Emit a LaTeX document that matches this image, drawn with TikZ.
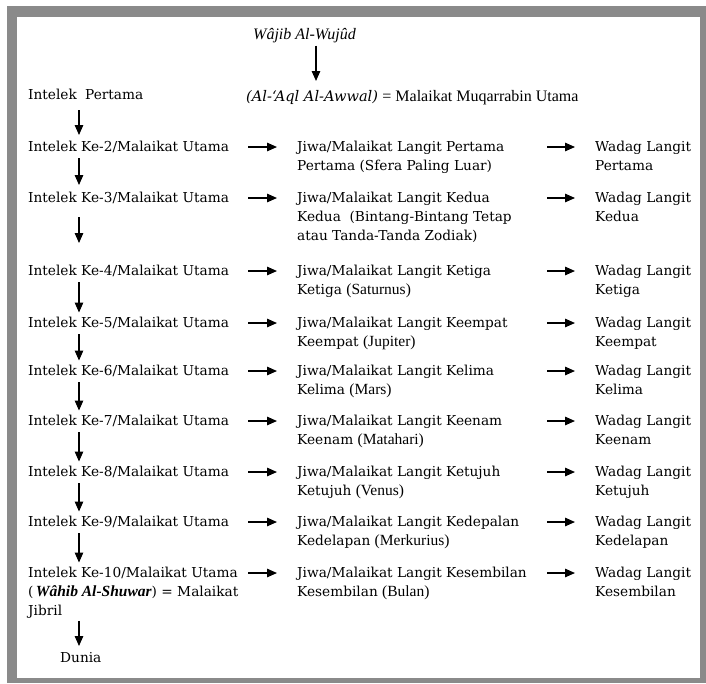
\documentclass[tikz,border=0pt]{standalone}
\usepackage{fontspec}
\setmainfont{DejaVu Serif}
\newfontfamily\tf{Liberation Serif}
\usetikzlibrary{arrows.meta}
\newcommand\tms[1]{{\tf\fontsize{15.5pt}{19pt}\selectfont #1}}
\definecolor{framegray}{RGB}{138,138,138}
\tikzset{
  txt/.style={anchor=north west, inner sep=0pt, align=left,
    font=\fontsize{13.7pt}{19pt}\selectfont,
    execute at begin node={\rule[-3.5pt]{0pt}{14.5pt}}},
  arr/.style={-{Triangle[length=10pt,width=8.5pt]}, line width=1.3pt},
  harr/.style={arr, shorten >=20pt},
}
\begin{document}
\begin{tikzpicture}[x=1pt,y=-1pt]
\useasboundingbox (0,0) rectangle (706,683);
\fill[framegray] (7,6) rectangle (706,683);
\fill[white] (17,17) rectangle (700,678);

\coordinate (ax) at (79,0);
\coordinate (tx) at (316,0);
\coordinate (hxa) at (248,0);
\coordinate (hxb) at (547,0);

% top
\node[txt] (w) at (253,28.5) {\tms{\fontsize{16pt}{19pt}\selectfont\itshape Wâjib Al-Wujûd}};
\node[txt] (aql) at (246,90.5) {{\fontsize{14.6pt}{19pt}\selectfont\itshape (Al-‘Aql Al-Awwal)} {\tf\fontsize{16pt}{19pt}\selectfont = Malaikat Muqarrabin Utama}};

% left column
\node[txt] (i1) at (28,88.5) {Intelek\hspace{4pt} Pertama};
\node[txt] (i2) at (28,140.5) {Intelek Ke-2/Malaikat Utama};
\node[txt] (i3) at (28,191.5) {Intelek Ke-3/Malaikat Utama};
\node[txt] (i4) at (28,264.5) {Intelek Ke-4/Malaikat Utama};
\node[txt] (i5) at (28,316.5) {Intelek Ke-5/Malaikat Utama};
\node[txt] (i6) at (28,364.5) {Intelek Ke-6/Malaikat Utama};
\node[txt] (i7) at (28,414.5) {Intelek Ke-7/Malaikat Utama};
\node[txt] (i8) at (28,465.5) {Intelek Ke-8/Malaikat Utama};
\node[txt] (i9) at (28,515.5) {Intelek Ke-9/Malaikat Utama};
\node[txt] (i10) at (28,566.5) {Intelek Ke-10/Malaikat Utama\\(\,\tms{\bfseries\itshape Wâhib Al-Shuwar}) = Malaikat\\Jibril};
\node[txt] (dunia) at (60,651.5) {Dunia};

% middle column
\node[txt] (j2) at (297,140.5) {Jiwa/Malaikat Langit Pertama\\Pertama (Sfera Paling Luar)};
\node[txt] (j3) at (297,191.5) {Jiwa/Malaikat Langit Kedua\\Kedua\ \ (Bintang-Bintang Tetap\\atau Tanda-Tanda Zodiak)};
\node[txt] (j4) at (297,264.5) {Jiwa/Malaikat Langit Ketiga\\Ketiga \tms{(Saturnus)}};
\node[txt] (j5) at (297,316.5) {Jiwa/Malaikat Langit Keempat\\Keempat \tms{(Jupiter)}};
\node[txt] (j6) at (297,364.5) {Jiwa/Malaikat Langit Kelima\\Kelima \tms{(Mars)}};
\node[txt] (j7) at (297,414.5) {Jiwa/Malaikat Langit Keenam\\Keenam \tms{(Matahari)}};
\node[txt] (j8) at (297,465.5) {Jiwa/Malaikat Langit Ketujuh\\Ketujuh \tms{(Venus)}};
\node[txt] (j9) at (297,515.5) {Jiwa/Malaikat Langit Kedepalan\\Kedelapan \tms{(Merkurius)}};
\node[txt] (j10) at (297,566.5) {Jiwa/Malaikat Langit Kesembilan\\Kesembilan \tms{(Bulan)}};

% right column
\node[txt] (k2) at (595,140.5) {Wadag Langit\\Pertama};
\node[txt] (k3) at (595,191.5) {Wadag Langit\\Kedua};
\node[txt] (k4) at (595,264.5) {Wadag Langit\\Ketiga};
\node[txt] (k5) at (595,316.5) {Wadag Langit\\Keempat};
\node[txt] (k6) at (595,364.5) {Wadag Langit\\Kelima};
\node[txt] (k7) at (595,414.5) {Wadag Langit\\Keenam};
\node[txt] (k8) at (595,465.5) {Wadag Langit\\Ketujuh};
\node[txt] (k9) at (595,515.5) {Wadag Langit\\Kedelapan};
\node[txt] (k10) at (595,566.5) {Wadag Langit\\Kesembilan};

% top arrow
\draw[arr, shorten <=2pt, shorten >=9.5pt] (w.south -| tx) -- (aql.north -| tx);

% vertical arrows
\draw[arr, shorten <=7pt, shorten >=5.5pt] (i1.south -| ax) -- (i2.north -| ax);
\draw[arr, shorten <=3pt, shorten >=6.5pt] (i2.south -| ax) -- (i3.north -| ax);
\draw[arr, shorten <=11pt, shorten >=21.5pt] (i3.south -| ax) -- (i4.north -| ax);
\foreach \a/\b in {i4/i5,i5/i6,i6/i7,i7/i8,i8/i9,i9/i10}
  \draw[arr, shorten <=3pt, shorten >=4pt] (\a.south -| ax) -- (\b.north -| ax);
\draw[arr, shorten <=2pt, shorten >=5.5pt] (i10.south -| ax) -- (dunia.north -| ax);

% horizontal arrows
\foreach \n in {2,...,10}{
  \draw[harr] ([yshift=-6.5pt]i\n.north west -| hxa) -- ([yshift=-6.5pt]j\n.north west);
  \draw[harr] ([yshift=-6.5pt]j\n.north west -| hxb) -- ([yshift=-6.5pt]k\n.north west);
}
\end{tikzpicture}
\end{document}
